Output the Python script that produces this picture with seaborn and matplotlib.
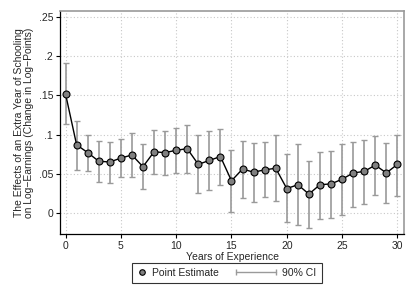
import numpy as np
import pandas as pd
import matplotlib
matplotlib.use("Agg")
import matplotlib.pyplot as plt
import seaborn as sns
from matplotlib.lines import Line2D
from matplotlib.legend_handler import HandlerLine2D

# values
years = list(range(0, 31))
estimate = [0.152, 0.087, 0.077, 0.066, 0.065, 0.070, 0.074, 0.059, 0.078, 0.077,
            0.080, 0.082, 0.062, 0.067, 0.072, 0.041, 0.056, 0.052, 0.055, 0.057,
            0.031, 0.036, 0.024, 0.036, 0.037, 0.043, 0.051, 0.053, 0.061, 0.051,
            0.062]
ci_upper = [0.191, 0.118, 0.100, 0.092, 0.091, 0.094, 0.102, 0.088, 0.106, 0.104,
            0.109, 0.112, 0.099, 0.104, 0.107, 0.080, 0.092, 0.089, 0.091, 0.099,
            0.075, 0.088, 0.066, 0.078, 0.079, 0.088, 0.091, 0.093, 0.098, 0.089,
            0.100]
ci_lower = [0.113, 0.055, 0.053, 0.040, 0.038, 0.046, 0.046, 0.030, 0.050, 0.049,
            0.051, 0.051, 0.026, 0.029, 0.036, 0.001, 0.019, 0.014, 0.020, 0.015,
            -0.012, -0.016, -0.019, -0.008, -0.006, -0.003, 0.008, 0.011, 0.023, 0.012,
            0.022]
ytick_vals = [0, 0.05, 0.1, 0.15, 0.2, 0.25]
ytick_labels = ["0", ".05", ".1", ".15", ".2", ".25"]
xtick_vals = [0, 5, 10, 15, 20, 25, 30]

df = pd.DataFrame({"year": years, "est": estimate, "lo": ci_lower, "hi": ci_upper})


class LongLeftLine(HandlerLine2D):
    # CI legend key: line that reaches back into the column gap
    def get_xdata(self, legend, xdescent, ydescent, width, height, fontsize):
        xd = np.array([-xdescent + width - 29, -xdescent + width])
        return xd, xd


sns.set_style("white")
plt.rcParams['font.family'] = ['Liberation Sans', 'DejaVu Sans']

fig = plt.figure(figsize=(4.15, 3.02), dpi=100)
ax = fig.add_axes([0.1446, 0.2252, 0.829, 0.7384])

# confidence intervals
ax.errorbar(df["year"], df["est"],
            yerr=[df["est"] - df["lo"], df["hi"] - df["est"]],
            fmt="none", ecolor="#9a9a9a", elinewidth=1.2, capsize=2.5,
            capthick=1.0, zorder=2)

# point estimates
sns.lineplot(data=df, x="year", y="est", ax=ax, color="black", linewidth=1.0,
             marker="o", markersize=5, markerfacecolor="#808080",
             markeredgecolor="black", markeredgewidth=0.8, zorder=3)

ax.set_xlim(-0.5, 30.6)
ax.set_ylim(-0.027, 0.258)
ax.set_xticks(xtick_vals)
ax.set_yticks(ytick_vals)
ax.set_yticklabels(ytick_labels)
ax.tick_params(axis="both", labelsize=7.5, direction="out", length=3,
               width=0.8, color="black", left=True, bottom=True, pad=2)
ax.grid(True, linestyle=(0, (1, 2)), color="#c8c8c8", linewidth=0.8)

for side in ["left", "bottom"]:
    ax.spines[side].set_color("black")
    ax.spines[side].set_linewidth(0.9)
for side in ["top", "right"]:
    ax.spines[side].set_color("#9a9a9a")
    ax.spines[side].set_linewidth(1.2)

ax.set_xlabel("Years of Experience", fontsize=7.5, labelpad=1)
ax.set_ylabel("The Effects of an Extra Year of Schooling\non Log\u2212Earnings (Change in Log\u2212Points)",
              fontsize=7.5, labelpad=3, linespacing=1.0)

pt_handle = Line2D([], [], linestyle="none", marker="o", markersize=4,
                   markerfacecolor="#808080", markeredgecolor="black",
                   markeredgewidth=0.8)
ci_handle = Line2D([], [], color="#9a9a9a", linewidth=1.0, marker="|",
                   markersize=4, markeredgecolor="#9a9a9a")
leg = fig.legend([pt_handle, ci_handle], ["Point Estimate", "90% CI"],
                 loc="center", bbox_to_anchor=(0.547, 0.096), ncol=2,
                 fontsize=7.5, frameon=True, fancybox=False, edgecolor="black",
                 handlelength=0.8, handletextpad=0.6, columnspacing=4.7,
                 borderpad=0.5, borderaxespad=0,
                 handler_map={pt_handle: HandlerLine2D(numpoints=1),
                              ci_handle: LongLeftLine(numpoints=2)})
leg.get_frame().set_linewidth(0.8)

fig.savefig("out.png", dpi=100)
